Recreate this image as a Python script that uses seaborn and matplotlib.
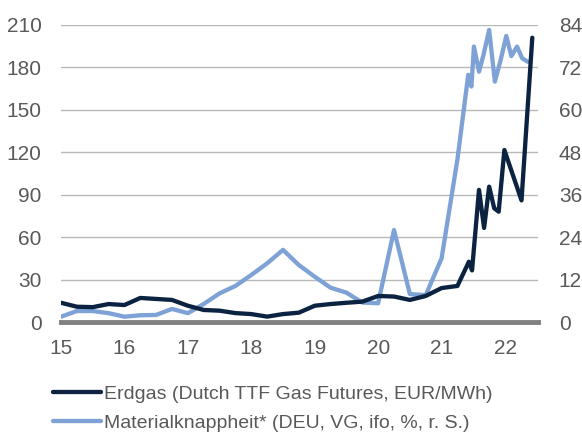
import pandas as pd
import numpy as np
import matplotlib
matplotlib.use("Agg")
import matplotlib.pyplot as plt
import seaborn as sns

# Erdgas (Dutch TTF Gas Futures, EUR/MWh), left axis
gas_x = [15.0, 15.25, 15.5, 15.75, 16.0, 16.25, 16.5, 16.75, 17.0, 17.25, 17.5, 17.75,
         18.0, 18.25, 18.5, 18.75, 19.0, 19.25, 19.5, 19.75, 20.0, 20.25, 20.5, 20.75,
         21.0, 21.25, 21.43, 21.48, 21.59, 21.67, 21.75, 21.83, 21.9, 21.99, 22.26, 22.43]
gas_y = [13.6, 10.8, 10.5, 12.7, 12.0, 17.0, 16.3, 15.6, 11.5, 8.5, 8.0, 6.3,
         5.6, 3.8, 5.6, 6.6, 11.5, 12.7, 13.6, 14.4, 18.4, 18.0, 15.6, 18.4,
         24.0, 25.5, 42.6, 36.5, 93.4, 66.5, 95.7, 80.4, 78.0, 121.6, 86.0, 201.0]

# Materialknappheit* (DEU, VG, ifo, %, r. S.), right axis
mat_x = [15.0, 15.25, 15.5, 15.75, 16.0, 16.25, 16.5, 16.75, 17.0, 17.25, 17.5, 17.75,
         18.0, 18.25, 18.5, 18.75, 19.0, 19.25, 19.5, 19.75, 20.0, 20.25, 20.5, 20.75,
         21.0, 21.25, 21.42, 21.47, 21.51, 21.59, 21.66, 21.75, 21.84, 21.93, 22.02,
         22.1, 22.19, 22.27, 22.36]
mat_y = [1.5, 3.1, 3.1, 2.5, 1.5, 1.9, 2.0, 3.7, 2.5, 5.1, 8.1, 10.2,
         13.3, 16.6, 20.4, 16.1, 12.8, 9.7, 8.3, 5.5, 5.3, 26.0, 7.9, 7.6,
         18.0, 46.0, 69.9, 66.6, 77.9, 70.8, 75.5, 82.6, 68.0, 74.0, 80.9,
         75.2, 77.9, 74.6, 73.6]

years = [15, 16, 17, 18, 19, 20, 21, 22]
left_ticks = [0, 30, 60, 90, 120, 150, 180, 210]
right_ticks = [0, 12, 24, 36, 48, 60, 72, 84]

gas_label = "Erdgas (Dutch TTF Gas Futures, EUR/MWh)"
mat_label = "Materialknappheit* (DEU, VG, ifo, %, r. S.)"

dark = "#0b2341"
light = "#7ea2d5"
txt = "#595959"

sns.set_style("white")
plt.rcParams["font.family"] = ["Liberation Sans", "DejaVu Sans"]
plt.rcParams["font.size"] = 15

fig, ax = plt.subplots(figsize=(5.82, 4.32), dpi=100)
fig.subplots_adjust(left=61 / 582, right=538 / 582, top=1 - 25 / 432, bottom=1 - 322 / 432)
ax2 = ax.twinx()

# left axis above the twin so the gas line sits on top
ax.set_zorder(ax2.get_zorder() + 1)
ax.patch.set_visible(False)

gas = pd.DataFrame({"x": gas_x, "y": gas_y})
mat = pd.DataFrame({"x": mat_x, "y": mat_y})
sns.lineplot(data=mat, x="x", y="y", ax=ax2, color=light, linewidth=3.1, label=mat_label, legend=False)
sns.lineplot(data=gas, x="x", y="y", ax=ax, color=dark, linewidth=3.1, label=gas_label, legend=False)

ax.set_xlim(15, 22.52)
ax.set_ylim(0, 210)
ax2.set_ylim(0, 84)
ax.set_xticks(years)
ax.set_xticklabels([str(y) for y in years])
ax.set_yticks(left_ticks)
ax2.set_yticks(right_ticks)
ax2.grid(axis="y", color="#b8b8b8", linewidth=1.0)
ax.grid(False)
ax.set_xlabel("")
ax.set_ylabel("")
ax2.set_ylabel("")

for a in (ax, ax2):
    for s in ["top", "left", "right", "bottom"]:
        a.spines[s].set_visible(False)
ax.spines["bottom"].set_visible(True)
ax.spines["bottom"].set_color("#808080")
ax.spines["bottom"].set_linewidth(3.5)

ax.tick_params(axis="x", length=0, pad=12, colors=txt, labelsize=15)
ax.tick_params(axis="y", length=0, pad=14, colors=txt, labelsize=15)
ax2.tick_params(axis="y", length=0, pad=15, colors=txt, labelsize=15)

handles = [ax.get_lines()[0], ax2.get_lines()[0]]
leg = fig.legend(handles, [gas_label, mat_label], loc="upper left",
                 bbox_to_anchor=(53 / 582, 1 - 385 / 432), frameon=False,
                 fontsize=14, handlelength=2.45, handletextpad=0.15,
                 labelspacing=0.58, borderpad=0, borderaxespad=0)
for t in leg.get_texts():
    t.set_color(txt)

fig.savefig("out.png", dpi=100)
